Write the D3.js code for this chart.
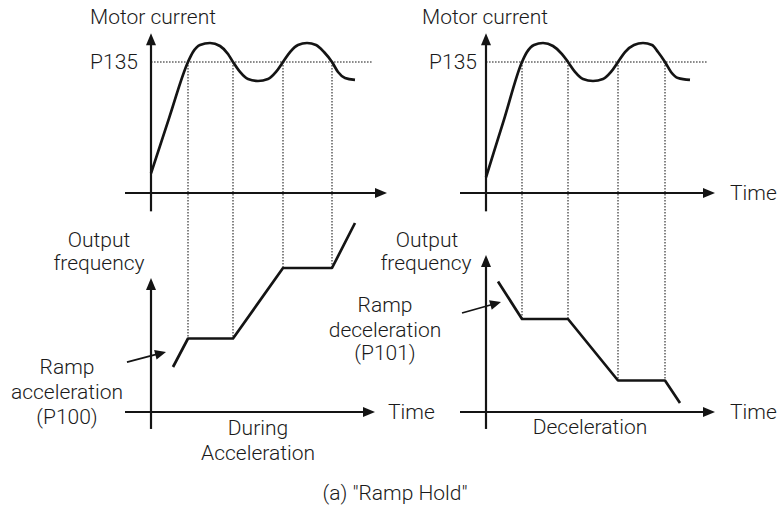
<!DOCTYPE html>
<html><head><meta charset="utf-8">
<script src="https://cdn.jsdelivr.net/npm/d3@7"></script>
<style>
body{margin:0;background:#fff}
svg{display:block}
text{font-family:Roboto,"Liberation Sans",Arial,sans-serif;font-weight:300;font-size:21px;fill:#1a1a1a}
</style>
</head><body>
<svg id="chart" width="777" height="506"></svg>
<script>
// Instants where the motor current crosses the P135 level (time units)
const accelEvents = [18.5, 41, 66, 90.5];
const decelEvents = [18, 41, 66, 89.5];
// Motor current, [time, current], P135 level = 100
const p135Level = 100;
const accelCurrent = [[0,15],[9,57],[18.5,100],[21,107.6],[24.5,113],[29.5,114.5],[34.5,112.2],[38.5,106.1],[41,100],
  [44.5,92.4],[48.5,87],[53.5,85.5],[58.5,87],[62.5,92.4],[66,100],[69.5,107.6],[73.5,113],[78,114.5],[82.5,113],
  [86.5,107.6],[90.5,100],[93.5,92.4],[97,87.8],[102,86.3]];
const decelCurrent = [[0,12],[9,56],[18,100],[20.5,107.6],[24,113],[28.5,114.5],[33.5,112.2],[38,106.1],[41,100],
  [44.5,92.4],[48.5,87],[53.5,85.5],[58.5,87],[62.5,92.4],[66,100],[69.5,107.6],[74,113],[78.5,114.5],[83,113],
  [86,107.6],[89.5,100],[92.5,92.4],[96,87.8],[102,86.3]];
// Output frequency, [time, frequency]
const accelFreq = [[11,30],[18.5,49],[41,49],[66,96],[90.5,96],[102,126]];
const decelFreq = [[6,87],[18,62],[41,62],[66,21],[89.5,21],[97,6]];

const svg = d3.select("#chart");

const panels = [
  {ox:151, events:accelEvents, current:accelCurrent, freq:accelFreq,
   topX:[-13,118], botX:[-13,112], botY:[-11.3,89.3],
   pLabelX:138, mcX:90, annFrom:[-12,33.3], annTo:[7.5,40]},
  {ox:486, events:decelEvents, current:decelCurrent, freq:decelFreq,
   topX:[-13,114.5], botX:[-13,114.5], botY:[-11.3,104.7],
   pLabelX:477, mcX:422, annFrom:[-12,66], annTo:[7.5,73.3]}
];

const ink = "#141414";

function arrowHead(g, x1, y1, x2, y2, len, half) {
  const a = Math.atan2(y2 - y1, x2 - x1);
  const bx = x2 - len * Math.cos(a), by = y2 - len * Math.sin(a);
  const px = -Math.sin(a) * half, py = Math.cos(a) * half;
  g.append("path")
    .attr("d", `M${x2},${y2}L${bx + px},${by + py}L${bx - px},${by - py}Z`)
    .attr("fill", ink);
}

function arrowLine(g, x1, y1, x2, y2, w, len, half) {
  const a = Math.atan2(y2 - y1, x2 - x1);
  g.append("line")
    .attr("x1", x1).attr("y1", y1)
    .attr("x2", x2 - (len - 1) * Math.cos(a)).attr("y2", y2 - (len - 1) * Math.sin(a))
    .attr("stroke", ink).attr("stroke-width", w);
  arrowHead(g, x1, y1, x2, y2, len, half);
}

// value of a polyline at time t
function valueAt(pts, t) {
  for (let i = 1; i < pts.length; i++) {
    if (t <= pts[i][0]) {
      const [t0, v0] = pts[i - 1], [t1, v1] = pts[i];
      return v0 + (v1 - v0) * (t - t0) / (t1 - t0);
    }
  }
  return pts[pts.length - 1][1];
}

panels.forEach(p => {
  const g = svg.append("g");
  const x = d3.scaleLinear().domain([0, 100]).range([p.ox, p.ox + 200]);
  const yTop = d3.scaleLinear().domain([0, 100]).range([193, 62]);
  const yBot = d3.scaleLinear().domain([0, 100]).range([412, 262]);

  // dotted guides
  const dots = g.append("g").attr("stroke", "#666").attr("stroke-width", 1.6)
    .attr("stroke-dasharray", "1.6,1.4").attr("fill", "none");
  dots.append("line")
    .attr("x1", x(0)).attr("x2", x(111))
    .attr("y1", yTop(p135Level)).attr("y2", yTop(p135Level));
  p.events.forEach(t => {
    dots.append("line")
      .attr("x1", x(t)).attr("x2", x(t))
      .attr("y1", yTop(p135Level)).attr("y2", yBot(valueAt(p.freq, t)));
  });

  // axes
  arrowLine(g, x(p.topX[0]), yTop(0), x(p.topX[1]), yTop(0), 2.2, 12, 5);
  arrowLine(g, x(0), yTop(-14), x(0), yTop(122), 2.2, 12, 5);
  arrowLine(g, x(p.botX[0]), yBot(0), x(p.botX[1]), yBot(0), 2.2, 12, 5);
  arrowLine(g, x(0), yBot(p.botY[0]), x(0), yBot(p.botY[1]), 2.2, 12, 5);

  // motor current
  g.append("path")
    .datum(p.current)
    .attr("d", d3.line().x(d => x(d[0])).y(d => yTop(d[1])).curve(d3.curveMonotoneX))
    .attr("fill", "none").attr("stroke", ink).attr("stroke-width", 2.7)
    .attr("stroke-linejoin", "round");

  // output frequency
  g.append("path")
    .datum(p.freq)
    .attr("d", d3.line().x(d => x(d[0])).y(d => yBot(d[1])))
    .attr("fill", "none").attr("stroke", ink).attr("stroke-width", 2.7)
    .attr("stroke-linejoin", "round");

  // ramp annotation arrow
  arrowLine(g, x(p.annFrom[0]), yBot(p.annFrom[1]), x(p.annTo[0]), yBot(p.annTo[1]), 1.8, 11, 5);

  g.append("text").attr("x", p.mcX).attr("y", 24).text("Motor current");
  g.append("text").attr("x", p.pLabelX).attr("y", 69).attr("text-anchor", "end").text("P135");
});

// labels
const lab = (x, y, s, anchor) => svg.append("text").attr("x", x).attr("y", y)
  .attr("text-anchor", anchor || "middle").text(s);

lab(730, 200, "Time", "start");
lab(388, 419, "Time", "start");
lab(730, 419, "Time", "start");

lab(99, 247, "Output");
lab(99, 270, "frequency");
lab(427, 247, "Output");
lab(426, 270, "frequency");

lab(67, 374, "Ramp");
lab(67, 399, "acceleration");
lab(67, 424, "(P100)");

lab(385, 312, "Ramp");
lab(385, 337, "deceleration");
lab(385, 360, "(P101)");

lab(258, 435, "During");
lab(258, 460, "Acceleration");
lab(590, 434, "Deceleration");

lab(395, 500, "(a) \"Ramp Hold\"");
</script>
</body></html>
